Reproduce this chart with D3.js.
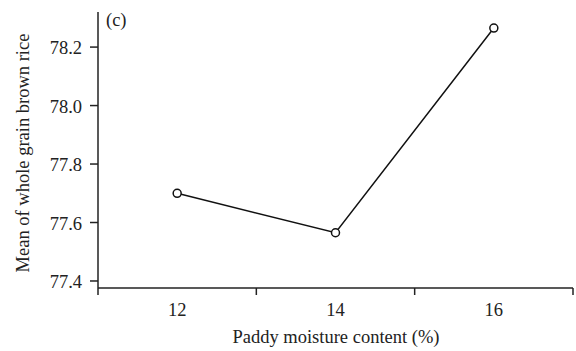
<!DOCTYPE html>
<html><head><meta charset="utf-8">
<script src="https://cdn.jsdelivr.net/npm/d3@7"></script>
<style>body{margin:0;background:#fff}svg{display:block}</style>
</head><body><svg id="c" width="576" height="351" font-family="'Liberation Serif', Tinos, 'Times New Roman', Times, serif"></svg>
<script>
const categories = ["12", "14", "16"];
const values = [77.70, 77.565, 78.265];
const yTicks = [77.4, 77.6, 77.8, 78.0, 78.2];
const xTitle = "Paddy moisture content (%)";
const yTitle = "Mean of whole grain brown rice";
const panel = "(c)";

const svg = d3.select("#c");
const L = 98, R = 573, T = 12, B = 288;
const FS = 18.5, TXT = "#222";
const x = d3.scaleBand().domain(categories).range([L, R]);
const y = d3.scaleLinear().domain([77.376, 78.32]).range([B, T]);

// x axis
const gx = svg.append("g");
gx.append("line").attr("x1", L).attr("x2", R).attr("y1", B).attr("y2", B).attr("stroke", "#222").attr("stroke-width", 1.5);
const bounds = categories.map(c => x(c)).concat([x(categories[categories.length-1]) + x.bandwidth()]);
gx.selectAll(".tk").data(bounds).join("line")
  .attr("x1", d => d).attr("x2", d => d).attr("y1", B).attr("y2", B + 7)
  .attr("stroke", "#222").attr("stroke-width", 1.5);
gx.selectAll(".lb").data(categories).join("text")
  .attr("x", d => x(d) + x.bandwidth() / 2).attr("y", 316).attr("fill", TXT)
  .attr("text-anchor", "middle").attr("font-size", FS).text(d => d);
svg.append("text").attr("x", 336).attr("y", 343).attr("text-anchor", "middle").attr("fill", TXT)
  .attr("font-size", FS).text(xTitle);

// y axis
const gy = svg.append("g");
gy.append("line").attr("x1", L).attr("x2", L).attr("y1", T).attr("y2", B).attr("stroke", "#222").attr("stroke-width", 1.5);
gy.selectAll(".tk").data(yTicks).join("line")
  .attr("x1", L - 8).attr("x2", L).attr("y1", d => y(d)).attr("y2", d => y(d))
  .attr("stroke", "#222").attr("stroke-width", 1.5);
gy.selectAll(".lb").data(yTicks).join("text")
  .attr("x", L - 16).attr("y", d => y(d)).attr("dy", "0.38em").attr("fill", TXT)
  .attr("text-anchor", "end").attr("font-size", FS).text(d => d.toFixed(1));
svg.append("text").attr("transform", `translate(29,153) rotate(-90)`).attr("fill", TXT)
  .attr("text-anchor", "middle").attr("font-size", FS).text(yTitle);

svg.append("text").attr("x", 106).attr("y", 26).attr("font-size", FS).attr("fill", TXT).text(panel);

// line + markers
const pts = categories.map((c, i) => [x(c) + x.bandwidth() / 2, y(values[i])]);
svg.append("path").attr("d", d3.line()(pts)).attr("fill", "none").attr("stroke", "#111").attr("stroke-width", 1.5);
svg.selectAll(".pt").data(pts).join("circle")
  .attr("cx", d => d[0]).attr("cy", d => d[1]).attr("r", 4)
  .attr("fill", "#fff").attr("stroke", "#111").attr("stroke-width", 1.5);
</script></body></html>
